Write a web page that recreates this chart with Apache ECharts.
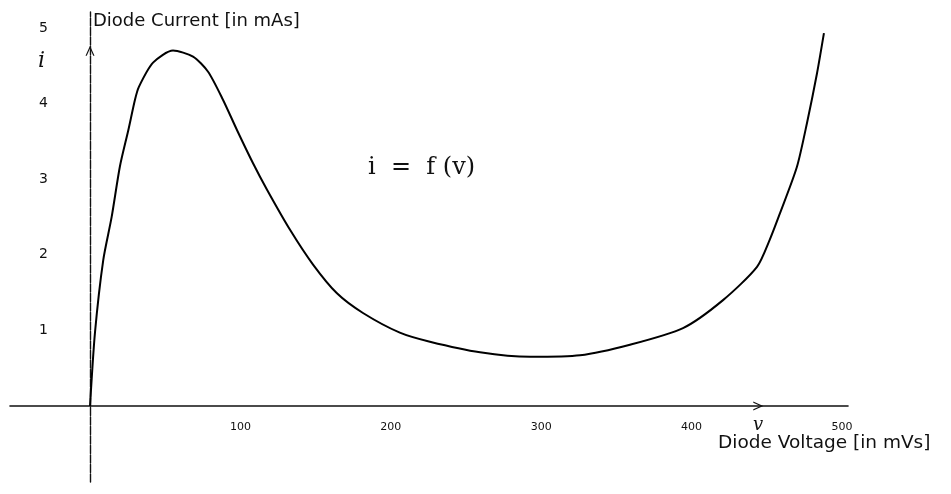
<!DOCTYPE html>
<html>
<head>
<meta charset="utf-8">
<script src="https://cdn.jsdelivr.net/npm/echarts@6/dist/echarts.min.js"></script>
<style>html,body{margin:0;padding:0;background:#fff}#c{width:951px;height:494px}</style>
</head>
<body>
<div id="c"></div>
<script>
// Diode characteristic i = f(v)
var voltage = [0, 3.3, 8.8, 14.4, 19.9, 25.5, 29.9, 32.5, 41.9, 55.2, 68.5, 78.5, 88.4, 97.7, 108.4, 117.7, 133, 148.3, 164.2, 181.5, 206, 226, 259.3, 292.6, 325.8, 359, 394.3, 420.9, 443.5, 452, 458.8, 470, 476.7, 483.4, 488];
var current = [0, 0.97, 1.93, 2.50, 3.17, 3.65, 4.05, 4.22, 4.54, 4.70, 4.62, 4.42, 4.05, 3.65, 3.21, 2.86, 2.33, 1.87, 1.49, 1.23, 0.97, 0.85, 0.71, 0.65, 0.67, 0.81, 1.03, 1.40, 1.84, 2.20, 2.55, 3.16, 3.74, 4.40, 4.93];
var xTicks = [100, 200, 300, 400, 500];
var yTicks = [1, 2, 3, 4, 5];
var xAxisTitle = 'Diode Voltage [in mVs]';
var yAxisTitle = 'Diode Current [in mAs]';
var formula = 'i  =  f (v)';

var X_MIN = -53.2, X_MAX = 504, Y_MIN = -1.005, Y_MAX = 5.21;
var pairs = voltage.map(function (v, k) { return [v, current[k]]; });
var font = '"DejaVu Sans", sans-serif';
var chevron = 'path://M0,10 L5,0 L10,10 L8.6,10 L5,2.8 L1.4,10 Z';
var hidden = {show: false};

var chart = echarts.init(document.getElementById('c'), null, {renderer: 'canvas'});
chart.setOption({
  backgroundColor: '#ffffff',
  animation: false,
  grid: [
    {left: 10, right: 103, top: 12, bottom: 12, containLabel: false, outerBoundsMode: 'none'},
    {left: 10, right: 103, top: 12, bottom: 88, containLabel: false, outerBoundsMode: 'none'},
    {left: 88, right: 103, top: 12, bottom: 12, containLabel: false, outerBoundsMode: 'none'}
  ],
  xAxis: [
    {
      gridIndex: 0, type: 'value', min: X_MIN, max: X_MAX,
      axisLine: {show: true, onZero: true, lineStyle: {color: '#111', width: 1.6}},
      axisTick: hidden, splitLine: hidden, axisLabel: hidden
    },
    {
      gridIndex: 1, type: 'value', min: X_MIN, max: X_MAX,
      axisLine: hidden, axisTick: hidden, splitLine: hidden,
      axisLabel: {customValues: xTicks, margin: 16, color: '#111', fontSize: 11, fontFamily: font}
    },
    {gridIndex: 2, type: 'value', min: 0, max: 1, show: false}
  ],
  yAxis: [
    {
      gridIndex: 0, type: 'value', min: Y_MIN, max: Y_MAX,
      axisLine: {show: true, onZero: true, lineStyle: {color: '#111', width: 1.4, type: [8, 1.5]}},
      axisTick: hidden, splitLine: hidden, axisLabel: hidden
    },
    {gridIndex: 1, type: 'value', min: 0, max: 1, show: false},
    {
      gridIndex: 2, type: 'value', min: Y_MIN, max: Y_MAX,
      axisLine: hidden, axisTick: hidden, splitLine: hidden,
      axisLabel: {customValues: yTicks, margin: 40, color: '#111', fontSize: 14, fontFamily: font}
    }
  ],
  graphic: [
    {type: 'text', left: 93, top: 12, style: {text: yAxisTitle, fill: '#111', font: '18px ' + font}},
    {type: 'text', left: 718, top: 434, style: {text: xAxisTitle, fill: '#111', font: '18.5px ' + font}},
    {type: 'text', left: 38, top: 50, style: {text: 'i', fill: '#111', font: 'italic 22px "DejaVu Serif", serif'}},
    {type: 'text', left: 753, top: 416, style: {text: 'v', fill: '#111', font: 'italic 18px "DejaVu Serif", serif'}},
    {type: 'text', left: 368, top: 156, style: {text: formula, fill: '#111', font: '24px "DejaVu Serif", serif'}}
  ],
  series: [{
    type: 'line',
    xAxisIndex: 0, yAxisIndex: 0,
    data: pairs,
    smooth: 0.25,
    symbol: 'none',
    lineStyle: {color: '#000', width: 2},
    markPoint: {
      silent: true,
      label: {show: false},
      itemStyle: {color: '#111'},
      data: [
        {coord: [0, 4.75], symbol: chevron, symbolSize: [9, 10], symbolRotate: 0, symbolOffset: [0, 4]},
        {coord: [447, 0], symbol: chevron, symbolSize: [9, 10], symbolRotate: -90, symbolOffset: [-4, 0]}
      ]
    }
  }]
});
</script>
</body>
</html>
